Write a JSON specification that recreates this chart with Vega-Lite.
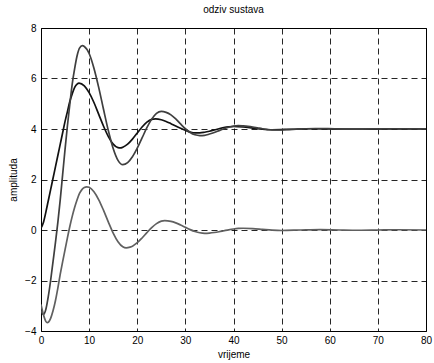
{
  "$schema": "https://vega.github.io/schema/vega-lite/v6.json",
  "autosize": {"type": "none"},
  "padding": {"left": 41, "top": 28, "right": 8, "bottom": 32},
  "width": 385,
  "height": 303,
  "background": "white",
  "title": {"text": "odziv sustava", "font": "Liberation Sans", "fontSize": 10, "fontWeight": "normal", "color": "black", "offset": 8},
  "config": {
    "view": {"stroke": "black", "strokeWidth": 1},
    "axis": {"labelFont": "Liberation Sans", "labelFontSize": 10, "labelColor": "black", "titleFont": "Liberation Sans", "titleFontSize": 10, "titleFontWeight": "normal", "titleColor": "black", "grid": true, "gridColor": "black", "gridDash": [6, 4], "gridOpacity": 0.85, "domain": false, "ticks": false}
  },
  "data": {"values": [
    {"s":"A","t":0,"v":0.08},{"s":"A","t":0.5,"v":0.3},{"s":"A","t":1,"v":0.7},{"s":"A","t":1.5,"v":1.15},{"s":"A","t":2,"v":1.6},{"s":"A","t":2.5,"v":2.05},{"s":"A","t":3,"v":2.5},{"s":"A","t":3.5,"v":2.95},{"s":"A","t":4,"v":3.4},{"s":"A","t":4.5,"v":3.85},{"s":"A","t":5,"v":4.3},{"s":"A","t":5.5,"v":4.7},{"s":"A","t":6,"v":5.1},{"s":"A","t":6.5,"v":5.4},{"s":"A","t":7,"v":5.65},{"s":"A","t":7.5,"v":5.78},{"s":"A","t":7.9,"v":5.82},{"s":"A","t":9,"v":5.71},{"s":"A","t":10,"v":5.44},{"s":"A","t":11,"v":5.05},{"s":"A","t":12,"v":4.58},{"s":"A","t":13,"v":4.11},{"s":"A","t":14,"v":3.7},{"s":"A","t":15,"v":3.4},{"s":"A","t":16,"v":3.26},{"s":"A","t":16.5,"v":3.25},{"s":"A","t":17,"v":3.28},{"s":"A","t":18,"v":3.4},{"s":"A","t":19,"v":3.6},{"s":"A","t":20,"v":3.84},{"s":"A","t":21,"v":4.08},{"s":"A","t":22,"v":4.27},{"s":"A","t":23,"v":4.38},{"s":"A","t":23.8,"v":4.4},{"s":"A","t":25,"v":4.365},{"s":"A","t":26,"v":4.3},{"s":"A","t":27,"v":4.21},{"s":"A","t":28,"v":4.115},{"s":"A","t":29,"v":4.03},{"s":"A","t":30,"v":3.95},{"s":"A","t":31,"v":3.88},{"s":"A","t":32,"v":3.845},{"s":"A","t":33,"v":3.845},{"s":"A","t":34,"v":3.87},{"s":"A","t":35,"v":3.91},{"s":"A","t":36,"v":3.96},{"s":"A","t":37,"v":4.01},{"s":"A","t":38,"v":4.06},{"s":"A","t":39,"v":4.09},{"s":"A","t":40,"v":4.1},{"s":"A","t":42,"v":4.08},{"s":"A","t":44,"v":4.035},{"s":"A","t":46,"v":3.99},{"s":"A","t":48,"v":3.97},{"s":"A","t":52,"v":3.99},{"s":"A","t":56,"v":4.01},{"s":"A","t":64,"v":3.995},{"s":"A","t":72,"v":4.0},{"s":"A","t":80,"v":4.0},
    {"s":"B","t":0,"v":-3.2},{"s":"B","t":0.5,"v":-3.35},{"s":"B","t":1,"v":-3.15},{"s":"B","t":1.5,"v":-2.65},{"s":"B","t":2,"v":-2.0},{"s":"B","t":2.5,"v":-1.25},{"s":"B","t":3,"v":-0.5},{"s":"B","t":3.5,"v":0.3},{"s":"B","t":4,"v":1.2},{"s":"B","t":4.5,"v":2.2},{"s":"B","t":5,"v":3.2},{"s":"B","t":5.5,"v":4.15},{"s":"B","t":6,"v":5.0},{"s":"B","t":6.5,"v":5.8},{"s":"B","t":7,"v":6.4},{"s":"B","t":7.5,"v":6.9},{"s":"B","t":8,"v":7.2},{"s":"B","t":8.6,"v":7.3},{"s":"B","t":9,"v":7.27},{"s":"B","t":10,"v":6.99},{"s":"B","t":11,"v":6.41},{"s":"B","t":12,"v":5.64},{"s":"B","t":13,"v":4.77},{"s":"B","t":14,"v":3.93},{"s":"B","t":15,"v":3.23},{"s":"B","t":16,"v":2.76},{"s":"B","t":17,"v":2.59},{"s":"B","t":18,"v":2.67},{"s":"B","t":19,"v":2.9},{"s":"B","t":20,"v":3.24},{"s":"B","t":21,"v":3.645},{"s":"B","t":22,"v":4.05},{"s":"B","t":23,"v":4.39},{"s":"B","t":24,"v":4.62},{"s":"B","t":25,"v":4.7},{"s":"B","t":26,"v":4.66},{"s":"B","t":27,"v":4.56},{"s":"B","t":28,"v":4.4},{"s":"B","t":29,"v":4.2},{"s":"B","t":30,"v":4.01},{"s":"B","t":31,"v":3.86},{"s":"B","t":32,"v":3.77},{"s":"B","t":33,"v":3.74},{"s":"B","t":34,"v":3.75},{"s":"B","t":35,"v":3.8},{"s":"B","t":36,"v":3.86},{"s":"B","t":37,"v":3.935},{"s":"B","t":38,"v":4.01},{"s":"B","t":39,"v":4.07},{"s":"B","t":40,"v":4.115},{"s":"B","t":41,"v":4.13},{"s":"B","t":42,"v":4.12},{"s":"B","t":43,"v":4.105},{"s":"B","t":44,"v":4.08},{"s":"B","t":45,"v":4.045},{"s":"B","t":46,"v":4.01},{"s":"B","t":47,"v":3.985},{"s":"B","t":48,"v":3.965},{"s":"B","t":49,"v":3.96},{"s":"B","t":51,"v":3.97},{"s":"B","t":53,"v":3.99},{"s":"B","t":55,"v":4.01},{"s":"B","t":57,"v":4.02},{"s":"B","t":61,"v":4.005},{"s":"B","t":65,"v":3.99},{"s":"B","t":73,"v":4.01},{"s":"B","t":80,"v":4.0},
    {"s":"C","t":0,"v":-2.95},{"s":"C","t":0.5,"v":-3.35},{"s":"C","t":1,"v":-3.62},{"s":"C","t":1.3,"v":-3.67},{"s":"C","t":1.6,"v":-3.64},{"s":"C","t":2,"v":-3.5},{"s":"C","t":2.5,"v":-3.2},{"s":"C","t":3,"v":-2.8},{"s":"C","t":3.5,"v":-2.3},{"s":"C","t":4,"v":-1.75},{"s":"C","t":4.5,"v":-1.25},{"s":"C","t":5,"v":-0.78},{"s":"C","t":5.5,"v":-0.3},{"s":"C","t":6,"v":0.15},{"s":"C","t":6.5,"v":0.55},{"s":"C","t":7,"v":0.9},{"s":"C","t":7.5,"v":1.2},{"s":"C","t":8,"v":1.45},{"s":"C","t":8.5,"v":1.6},{"s":"C","t":9,"v":1.68},{"s":"C","t":9.5,"v":1.71},{"s":"C","t":10,"v":1.69},{"s":"C","t":11,"v":1.515},{"s":"C","t":12,"v":1.197},{"s":"C","t":13,"v":0.776},{"s":"C","t":14,"v":0.315},{"s":"C","t":15,"v":-0.12},{"s":"C","t":16,"v":-0.463},{"s":"C","t":17,"v":-0.666},{"s":"C","t":17.7,"v":-0.71},{"s":"C","t":18.5,"v":-0.68},{"s":"C","t":19,"v":-0.64},{"s":"C","t":20,"v":-0.504},{"s":"C","t":21,"v":-0.316},{"s":"C","t":22,"v":-0.106},{"s":"C","t":23,"v":0.094},{"s":"C","t":24,"v":0.254},{"s":"C","t":25,"v":0.35},{"s":"C","t":25.7,"v":0.37},{"s":"C","t":27,"v":0.34},{"s":"C","t":28,"v":0.281},{"s":"C","t":29,"v":0.199},{"s":"C","t":30,"v":0.106},{"s":"C","t":31,"v":0.015},{"s":"C","t":32,"v":-0.06},{"s":"C","t":33,"v":-0.11},{"s":"C","t":34,"v":-0.13},{"s":"C","t":35,"v":-0.122},{"s":"C","t":36,"v":-0.1},{"s":"C","t":37,"v":-0.068},{"s":"C","t":38,"v":-0.03},{"s":"C","t":39,"v":0.008},{"s":"C","t":40,"v":0.04},{"s":"C","t":41,"v":0.062},{"s":"C","t":42,"v":0.07},{"s":"C","t":44,"v":0.055},{"s":"C","t":46,"v":0.025},{"s":"C","t":48,"v":-0.005},{"s":"C","t":50,"v":-0.02},{"s":"C","t":54,"v":0.0},{"s":"C","t":58,"v":0.015},{"s":"C","t":62,"v":0.0},{"s":"C","t":66,"v":-0.01},{"s":"C","t":70,"v":0.0},{"s":"C","t":74,"v":0.01},{"s":"C","t":80,"v":0.0}
  ]},
  "mark": {"type": "line", "interpolate": "monotone", "strokeWidth": 1.7, "clip": true},
  "encoding": {
    "x": {"field": "t", "type": "quantitative", "scale": {"domain": [0, 80], "nice": false, "zero": false}, "axis": {"values": [0,10,20,30,40,50,60,70,80], "title": "vrijeme", "labelPadding": 4, "titlePadding": 4, "labelFlush": false}},
    "y": {"field": "v", "type": "quantitative", "scale": {"domain": [-4, 8], "nice": false, "zero": false}, "axis": {"values": [-4,-2,0,2,4,6,8], "title": "amplituda", "labelPadding": 5, "titlePadding": 6, "labelFlush": false}},
    "color": {"field": "s", "type": "nominal", "scale": {"domain": ["A","B","C"], "range": ["#111111", "#3f3f3f", "#606060"]}, "legend": null}
  }
}
